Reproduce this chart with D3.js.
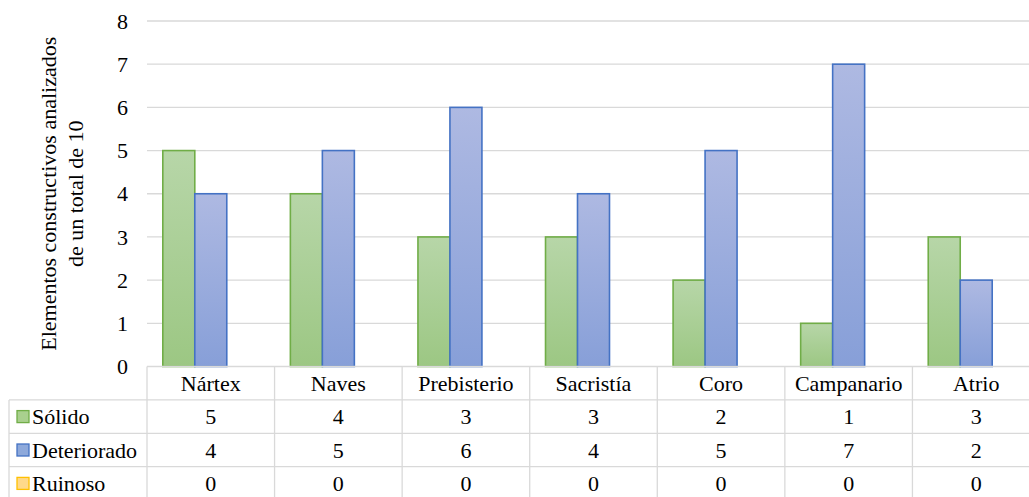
<!DOCTYPE html>
<html>
<head>
<meta charset="utf-8">
<script src="https://cdn.jsdelivr.net/npm/d3@7"></script>
<style>
  html, body { margin: 0; padding: 0; background: #fff; }
  svg { display: block; }
  svg text { font-family: 'Liberation Serif', Tinos, 'Times New Roman', 'DejaVu Serif', serif; }
</style>
</head>
<body>
<svg id="chart" width="1029" height="497"></svg>
<script>
// Building elements assessed per state of conservation
const categories = ["Nártex", "Naves", "Prebisterio", "Sacristía", "Coro", "Campanario", "Atrio"];
const seriesNames = ["Sólido", "Deteriorado", "Ruinoso"];
const solido      = [5, 4, 3, 3, 2, 1, 3];
const deteriorado = [4, 5, 6, 4, 5, 7, 2];
const ruinoso     = [0, 0, 0, 0, 0, 0, 0];
const yTicks = [0, 1, 2, 3, 4, 5, 6, 7, 8];
const yTitle = ["Elementos constructivos analizados", "de un total de 10"];

const seriesValues = [solido, deteriorado, ruinoso];
const palette = {
  "Sólido":      { top: "#b7d6a8", bottom: "#9cc783", stroke: "#70ad47", key: "#a9d08e" },
  "Deteriorado": { top: "#aeb9e2", bottom: "#879fd8", stroke: "#4472c4", key: "#8ea9db" },
  "Ruinoso":     { top: "#ffe29c", bottom: "#ffd266", stroke: "#ffc000", key: "#ffd98a" }
};

const svg = d3.select("#chart");
const plotLeft = 147, plotRight = 1040, plotTop = 21, plotBottom = 366.5;
const rowH = 33.4;
const gridColor = "#d9d9d9";
const fontSize = 22;
const fontFamily = "'Liberation Serif', Tinos, 'Times New Roman', 'DejaVu Serif', serif";

const x = d3.scaleBand().domain(categories).range([plotLeft, plotRight]).paddingInner(0).paddingOuter(0);
const xs = d3.scaleBand().domain(seriesNames).range([0, x.bandwidth()]).paddingInner(0).paddingOuter(0.494);
const y = d3.scaleLinear().domain([0, 8]).range([plotBottom, plotTop]);

// gradients, one per series, spanning each bar
const defs = svg.append("defs");
seriesNames.forEach((s, i) => {
  const g = defs.append("linearGradient").attr("id", "grad" + i)
    .attr("x1", 0).attr("y1", 0).attr("x2", 0).attr("y2", 1);
  g.append("stop").attr("offset", "0%").attr("stop-color", palette[s].top);
  g.append("stop").attr("offset", "100%").attr("stop-color", palette[s].bottom);
});

// horizontal gridlines
svg.append("g").selectAll("line").data(yTicks.filter(d => d > 0)).join("line")
  .attr("x1", plotLeft).attr("x2", 1029)
  .attr("y1", d => y(d)).attr("y2", d => y(d))
  .attr("stroke", gridColor).attr("stroke-width", 1.3);

// y tick labels
svg.append("g").selectAll("text").data(yTicks).join("text")
  .attr("x", 128).attr("y", d => y(d))
  .attr("dy", "0.35em").attr("text-anchor", "end")
  .attr("font-family", fontFamily)
  .attr("font-size", fontSize).attr("fill", "#000")
  .text(d => d);

// y axis title, two lines rotated
const titleCy = (plotTop + plotBottom) / 2;
const tTitle = svg.append("text")
  .attr("transform", `translate(56,${titleCy}) rotate(-90)`)
  .attr("text-anchor", "middle").attr("font-family", fontFamily)
  .attr("font-size", fontSize).attr("fill", "#000");
yTitle.forEach((line, i) => {
  tTitle.append("tspan").attr("x", 0).attr("y", i * 27).text(line);
});

// bars
const barData = [];
categories.forEach((c, ci) => {
  seriesNames.forEach((s, si) => {
    barData.push({ cat: c, series: s, si, value: seriesValues[si][ci] });
  });
});
svg.append("g").selectAll("rect").data(barData).join("rect")
  .attr("x", d => x(d.cat) + xs(d.series))
  .attr("y", d => y(d.value))
  .attr("width", xs.bandwidth())
  .attr("height", d => y(0) - y(d.value))
  .attr("fill", d => `url(#grad${d.si})`)
  .attr("stroke", d => palette[d.series].stroke)
  .attr("stroke-width", 1.6);

// data table
const table = svg.append("g");
const tableTop = plotBottom;
const legendLeft = 9;
const rowsY = [0, 1, 2, 3, 4].map(i => tableTop + i * rowH);

// horizontal table rules
table.append("line")
  .attr("x1", plotLeft).attr("x2", 1029).attr("y1", rowsY[0]).attr("y2", rowsY[0])
  .attr("stroke", gridColor).attr("stroke-width", 1.3);
table.selectAll("line.h").data(rowsY.slice(1)).join("line").attr("class", "h")
  .attr("x1", legendLeft).attr("x2", 1029)
  .attr("y1", d => d).attr("y2", d => d)
  .attr("stroke", gridColor).attr("stroke-width", 1.3);

// vertical table rules
const vx = categories.map(c => x(c)).concat([plotRight]);
table.selectAll("line.v").data(vx).join("line").attr("class", "v")
  .attr("x1", d => d).attr("x2", d => d)
  .attr("y1", rowsY[0]).attr("y2", 497)
  .attr("stroke", gridColor).attr("stroke-width", 1.3);
table.append("line")
  .attr("x1", legendLeft).attr("x2", legendLeft)
  .attr("y1", rowsY[1]).attr("y2", 497)
  .attr("stroke", gridColor).attr("stroke-width", 1.3);

// category header row
table.selectAll("text.cat").data(categories).join("text").attr("class", "cat")
  .attr("x", d => x(d) + x.bandwidth() / 2)
  .attr("y", rowsY[0] + rowH / 2)
  .attr("dy", "0.35em").attr("text-anchor", "middle")
  .attr("font-family", fontFamily)
  .attr("font-size", fontSize).attr("fill", "#000")
  .text(d => d);

// series rows with legend keys and values
seriesNames.forEach((s, si) => {
  const cy = rowsY[si + 1] + rowH / 2;
  table.append("rect")
    .attr("x", 17).attr("y", cy - 6).attr("width", 12).attr("height", 12)
    .attr("fill", palette[s].key).attr("stroke", palette[s].stroke).attr("stroke-width", 1.3);
  table.append("text")
    .attr("x", 32).attr("y", cy).attr("dy", "0.35em")
    .attr("font-family", fontFamily)
    .attr("font-size", fontSize).attr("fill", "#000").text(s);
  table.selectAll("text.v" + si).data(categories).join("text").attr("class", "v" + si)
    .attr("x", d => x(d) + x.bandwidth() / 2)
    .attr("y", cy).attr("dy", "0.35em").attr("text-anchor", "middle")
    .attr("font-family", fontFamily)
    .attr("font-size", fontSize).attr("fill", "#000")
    .text((d, ci) => seriesValues[si][ci]);
});
</script>
</body>
</html>
